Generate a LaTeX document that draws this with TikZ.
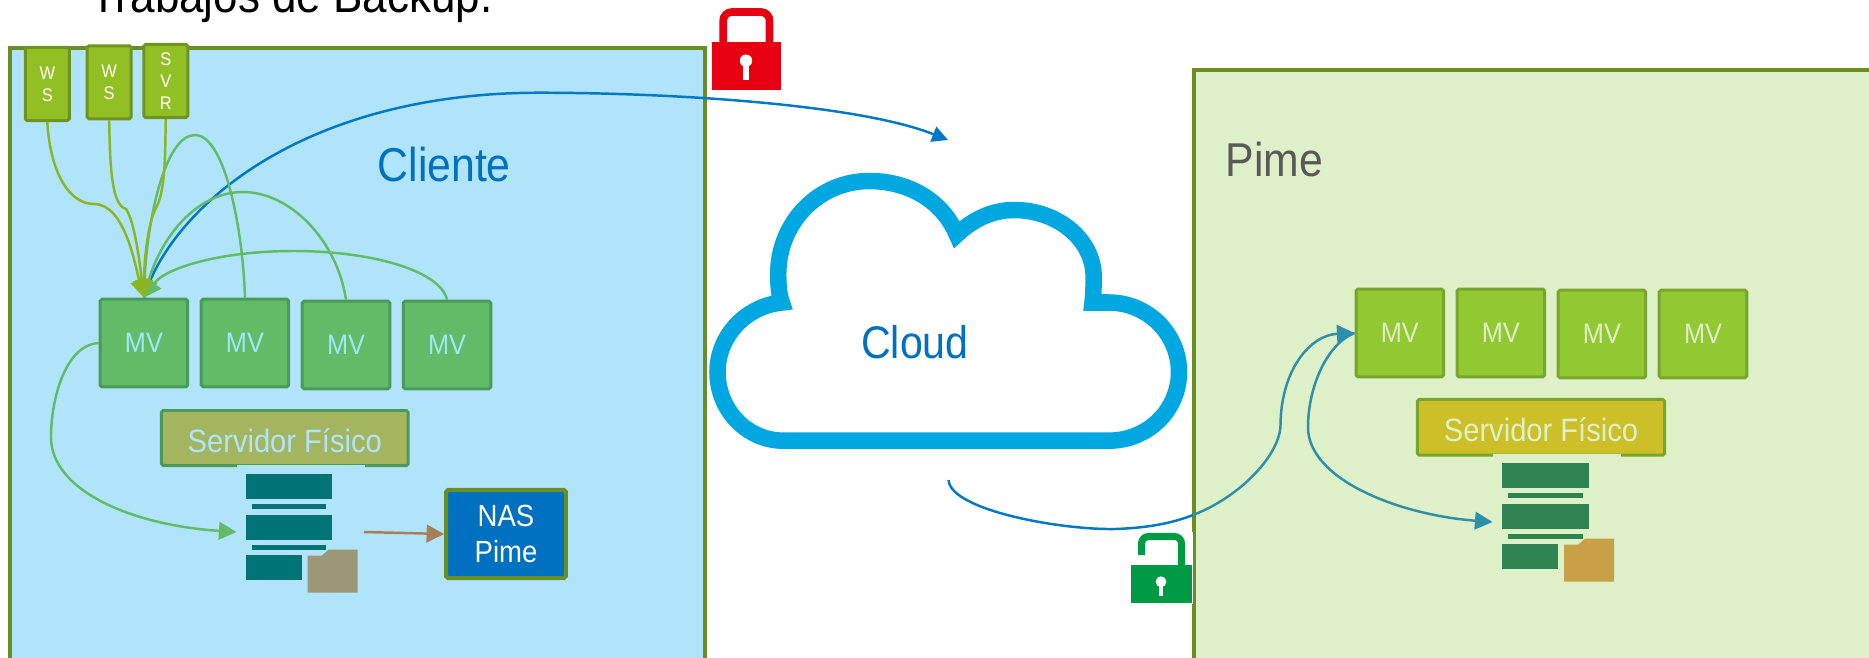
\documentclass[tikz,border=0pt]{standalone}
\usepackage{fontspec}
\setmainfont[FakeStretch=0.9]{Liberation Sans}
\usetikzlibrary{arrows.meta}

\definecolor{frameolive}{HTML}{6B8E23}
\definecolor{clientbg}{HTML}{B0E4FA}
\definecolor{pimebg}{HTML}{DEF0C8}
\definecolor{wsgreen}{HTML}{92C024}
\definecolor{wsedge}{HTML}{6E9420}
\definecolor{mvgreen}{HTML}{62BB66}
\definecolor{mvedge}{HTML}{4A9A5A}
\definecolor{limegreen}{HTML}{92C832}
\definecolor{limeedge}{HTML}{78A62A}
\definecolor{cloudblue}{HTML}{00A7E1}
\definecolor{textblue}{HTML}{0070C0}
\definecolor{linkblue}{HTML}{0078C4}
\definecolor{linkteal}{HTML}{2E8FA8}
\definecolor{nasarrow}{HTML}{A87E5A}
\definecolor{lockred}{HTML}{E60012}
\definecolor{lockgreen}{HTML}{009944}
\definecolor{serverolive}{HTML}{A3B55F}
\definecolor{serveryellow}{HTML}{CDBF28}
\definecolor{barteal}{HTML}{007377}
\definecolor{bargreen}{HTML}{2E8450}
\definecolor{foldergrey}{HTML}{9C9776}
\definecolor{foldergold}{HTML}{C8A048}

\tikzset{
  pics/servericon/.style n args={3}{code={
    \fill[#3] (-8.6,-8.7) rectangle (119.4,-6);
    \fill[#1] (0,0) rectangle (86.7,25.5);
    \fill[#1] (6,30.5) rectangle (80.8,35.5);
    \fill[#1] (0,41.5) rectangle (86.7,66.5);
    \fill[#1] (6,71.5) rectangle (80.8,76.5);
    \fill[#1] (0.4,81.5) rectangle (56,106.5);
    \fill[#2] (62,82) -- (76,82) -- (83,76) -- (112.1,76) -- (112.1,119) -- (62,119) -- cycle;
  }}
}

\begin{document}
\begin{tikzpicture}[x=0.01cm, y=-0.01cm, node distance=1.01cm,
    wsbox/.style={rectangle, draw=wsedge, fill=wsgreen, line width=0.85pt, rounded corners=0.5pt,
      minimum width=0.44cm, minimum height=0.73cm, inner sep=0pt, align=center,
      text=white, font=\fontsize{5.2}{6.2}\selectfont},
    mvbox/.style={rectangle, draw=mvedge, fill=mvgreen, line width=0.85pt, rounded corners=0.5pt,
      minimum width=0.875cm, minimum height=0.875cm, inner sep=0pt,
      text=clientbg!90!cyan, font=\fontsize{8}{10}\selectfont},
    mvlime/.style={mvbox, draw=limeedge, fill=limegreen, text=pimebg},
    serverbox/.style={rectangle, draw=mvedge, fill=#1, line width=0.85pt, rounded corners=0.5pt,
      minimum height=0.55cm, inner sep=0pt, text height=8pt, text depth=0pt,
      font=\fontsize{9.2}{11}\selectfont},
    nasbox/.style={rectangle, draw=frameolive, fill=textblue, line width=1.15pt, rounded corners=0.5pt,
      minimum width=1.195cm, minimum height=0.88cm, inner sep=0pt, align=center,
      text=white, font=\fontsize{8.7}{10.3}\selectfont},
    bigtext/.style={anchor=base west, inner sep=0pt, text=#1, font=\fontsize{13.5}{15}\selectfont},
    wslink/.style={draw=wsgreen!95!black, line width=0.7pt, -{Triangle[length=5pt,width=5pt]}},
    mvlink/.style={draw=mvgreen, line width=0.7pt, -{Triangle[length=5pt,width=5pt]}},
    bluelink/.style={draw=linkblue, line width=0.7pt},
    teallink/.style={draw=linkteal, line width=0.7pt}]
  \useasboundingbox (0,0) rectangle (1869,657);

  % Panels
  \draw[frameolive, fill=clientbg, line width=0.9pt] (10,48) rectangle (705,680);
  \draw[frameolive, fill=pimebg, line width=0.9pt] (1194,70) rectangle (1900,680);

  % Title and panel names
  \node[anchor=base west, inner sep=0pt, font=\fontsize{13.9}{16}\selectfont] (title) at (90,12) {Trabajos de Backup.};
  \node[bigtext=textblue] (cliente) at (377,181) {Cliente};
  \node[bigtext=black!65] (pime) at (1225,176) {Pime};

  % Cloud
  \draw[cloudblue, fill=white, line width=4.7pt, miter limit=10]
    (783.6,440.7) -- (1108.6,440.7)
    .. controls (1148,440.7) and (1179,410) .. (1179,372)
    .. controls (1179,334) and (1148,302.5) .. (1108.6,302.5)
    -- (1092.5,302.5)
    .. controls (1093.5,295) and (1093.6,285) .. (1093.6,276.5)
    .. controls (1093.6,240) and (1058,210) .. (1014,210)
    .. controls (992,210) and (972,220) .. (956.8,234.6)
    .. controls (942,200) and (908,181) .. (869.3,181)
    .. controls (819,181) and (778.2,222) .. (778.2,274.4)
    .. controls (778.2,285) and (779,295) .. (781.8,302.5)
    .. controls (746,306) and (717.5,336) .. (717.5,372)
    .. controls (717.5,410) and (747,440.7) .. (783.6,440.7) -- cycle;
  \node[anchor=base, inner sep=0pt, text=textblue, font=\fontsize{13}{15}\selectfont] (cloud) at (915,358) {Cloud};

  % Red lock
  \draw[lockred, line width=2.2pt, rounded corners=2.5pt] (723.2,44) -- (723.2,12) -- (769.6,12) -- (769.6,44);
  \fill[lockred] (712,42) rectangle (780.7,89.7);
  \fill[white] (746,60.7) circle (6.2);
  \fill[white] (743.4,62) rectangle (748.6,79.6);

  % Green lock
  \fill[white] (1128,532) rectangle (1193,604);
  \draw[lockgreen, line width=2pt, rounded corners=2pt] (1141.5,555) -- (1141.5,536.5) -- (1181.5,536.5) -- (1181.5,567);
  \fill[lockgreen] (1131,565) rectangle (1191.7,603);
  \fill[white] (1161,581.7) circle (5.4);
  \fill[white] (1158.8,583) rectangle (1163.2,596);

  % Client machines
  \node[wsbox] (ws1) at (47.3,84) {W\\S};
  \node[wsbox] (ws2) at (109.2,82.3) {W\\S};
  \node[wsbox] (svr) at (165.8,81) {S\\V\\R};

  \node[mvbox] (mv1) at (143.9,343) {MV};
  \node[mvbox, right of=mv1] (mv2) {MV};
  \node[mvbox, right of=mv2, yshift=-0.02cm] (mv3) {MV};
  \node[mvbox, right of=mv3] (mv4) {MV};

  \node[serverbox=serverolive, minimum width=2.465cm, text=clientbg] (srv1) at (284.8,438) {Servidor Físico};
  \pic at (245.6,473.7) {servericon={barteal}{foldergrey}{clientbg}};
  \coordinate (icon1) at (236.5,532);
  \coordinate (icon1out) at (364,532);
  \node[nasbox] (nas) at (506,534) {NAS\\Pime};

  % Pime machines
  \node[mvlime] (mvp1) at (1399.8,333) {MV};
  \node[mvlime, right of=mvp1] (mvp2) {MV};
  \node[mvlime, right of=mvp2, yshift=-0.01cm] (mvp3) {MV};
  \node[mvlime, right of=mvp3] (mvp4) {MV};

  \node[serverbox=serveryellow, draw=limeedge, minimum width=2.47cm, minimum height=0.557cm, text=pimebg] (srv2) at (1541,427.3) {Servidor Físico};
  \pic at (1502,462.7) {servericon={bargreen}{foldergold}{pimebg}};
  \coordinate (icon2) at (1492.5,522);

  % Blue path through the cloud
  \coordinate (intocloud) at (948,140);
  \coordinate (outcloud) at (948.6,480);
  \coordinate (border) at (1193,515);
  \draw[bluelink, -{Triangle[length=4.5pt,width=4.5pt]}] (mv1.north)
    .. controls (170,210) and (300,92) .. (541.8,92.7)
    .. controls (680,93) and (860,105) .. (intocloud);
  \draw[bluelink] (outcloud)
    .. controls (950,510) and (1060,530) .. (1115,529)
    .. controls (1145,528) and (1170,524) .. (border);
  \draw[teallink, -{Triangle[length=5pt,width=5pt]}] (border)
    .. controls (1240,497) and (1280,455) .. (1280.5,425)
    .. controls (1281,370) and (1310,335) .. (mvp1.west);
  \draw[teallink, -{Triangle[length=5pt,width=5pt]}] (mvp1.west)
    .. controls (1325,345) and (1308,390) .. (1308,427)
    .. controls (1308,480) and (1400,515) .. (icon2);

  % First MV links
  \draw[mvlink] (mv2.north)
    .. controls (243,230) and (225,135) .. (195,135)
    .. controls (165,135) and (147,220) .. (mv1.north);
  \draw[mvlink] (mv3.north)
    .. controls (337,240) and (290,192) .. (243,192)
    .. controls (195,192) and (160,240) .. (mv1.north);
  \draw[mvlink] (mv4.north)
    .. controls (440,270) and (370,251) .. (294,251)
    .. controls (220,251) and (165,268) .. (mv1.north);
  \draw[wslink] (ws1.south)
    .. controls (50,170) and (68,204) .. (94,204)
    .. controls (125,204) and (135,265) .. (mv1.north);
  \draw[wslink] (ws2.south)
    .. controls (110,170) and (112,205) .. (126,209)
    .. controls (135,222) and (140,265) .. (mv1.north);
  \draw[wslink] (svr.south)
    .. controls (165,150) and (166,190) .. (156,208)
    .. controls (147,225) and (144,265) .. (mv1.north);

  % Backup inside the client
  \draw[mvlink] (mv1.west)
    .. controls (65,345) and (51,400) .. (51,437)
    .. controls (51,490) and (130,525) .. (icon1);
  \draw[draw=nasarrow, line width=0.7pt, -{Triangle[length=5pt,width=5pt]}] (icon1out) -- (nas.west);
\end{tikzpicture}
\end{document}
